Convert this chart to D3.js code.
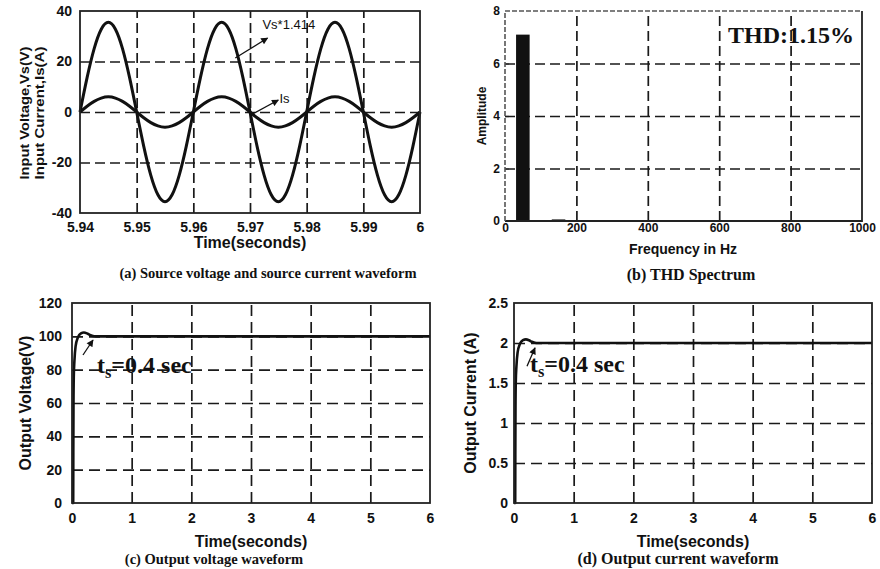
<!DOCTYPE html>
<html>
<head>
<meta charset="utf-8">
<script src="https://cdn.jsdelivr.net/npm/d3@7"></script>
<style>
  body { margin: 0; background: #fff; }
  svg { display: block; }
</style>
</head>
<body>
<svg id="fig" width="880" height="569"></svg>
<script>
// ---- data ----

// (a) source voltage (scaled) and source current, one sample every 1.25 ms
var srcStart = 5.94, srcStep = 0.00125;
var vsScaled = [0, 13.6, 25.1, 32.8, 35.5, 32.8, 25.1, 13.6, 0, -13.6, -25.1, -32.8, -35.5, -32.8, -25.1, -13.6,
                0, 13.6, 25.1, 32.8, 35.5, 32.8, 25.1, 13.6, 0, -13.6, -25.1, -32.8, -35.5, -32.8, -25.1, -13.6,
                0, 13.6, 25.1, 32.8, 35.5, 32.8, 25.1, 13.6, 0, -13.6, -25.1, -32.8, -35.5, -32.8, -25.1, -13.6, 0];
var isCurrent = [0, 2.3, 4.2, 5.5, 6.0, 5.5, 4.2, 2.3, 0, -2.3, -4.2, -5.5, -6.0, -5.5, -4.2, -2.3,
                 0, 2.3, 4.2, 5.5, 6.0, 5.5, 4.2, 2.3, 0, -2.3, -4.2, -5.5, -6.0, -5.5, -4.2, -2.3,
                 0, 2.3, 4.2, 5.5, 6.0, 5.5, 4.2, 2.3, 0, -2.3, -4.2, -5.5, -6.0, -5.5, -4.2, -2.3, 0];

// (b) harmonic spectrum
var harmFreq = [50, 150, 250];
var harmAmp = [7.1, 0.06, 0.03];
var thdLabel = "THD:1.15%";

// (c) output voltage step response
var voTime = [0, 0.02, 0.022, 0.025, 0.03, 0.04, 0.06, 0.1, 0.15, 0.2, 0.25, 0.3, 0.35, 0.4, 0.6, 1, 2, 3, 4, 5, 6];
var voVal  = [0, 0, 30, 60, 76, 85, 94, 99.5, 101.8, 102.3, 101.8, 100.8, 100.2, 100, 100, 100, 100, 100, 100, 100, 100];

// (d) output current step response
var ioTime = [0, 0.02, 0.022, 0.025, 0.03, 0.04, 0.06, 0.1, 0.15, 0.2, 0.25, 0.3, 0.35, 0.4, 0.6, 1, 2, 3, 4, 5, 6];
var ioVal  = [0, 0, 0.6, 1.2, 1.52, 1.7, 1.88, 1.99, 2.035, 2.045, 2.035, 2.015, 2.004, 2, 2, 2, 2, 2, 2, 2, 2];

// tick values
var aXTicks = [5.94, 5.95, 5.96, 5.97, 5.98, 5.99, 6];
var aYTicks = [-40, -20, 0, 20, 40];
var bXTicks = [0, 200, 400, 600, 800, 1000];
var bYTicks = [0, 2, 4, 6, 8];
var cdXTicks = [0, 1, 2, 3, 4, 5, 6];
var cYTicks = [0, 20, 40, 60, 80, 100, 120];
var dYTicks = [0, 0.5, 1, 1.5, 2, 2.5];

var SANS = '"Liberation Sans", Arial, sans-serif';
var SERIF = '"Liberation Serif", "Times New Roman", serif';
var INK = "#111";

var svg = d3.select("#fig");

svg.append("defs").append("marker")
   .attr("id", "ah")
   .attr("viewBox", "0 0 10 10")
   .attr("refX", 9).attr("refY", 5)
   .attr("markerWidth", 9).attr("markerHeight", 7)
   .attr("markerUnits", "userSpaceOnUse")
   .attr("orient", "auto")
   .append("path").attr("d", "M0,0L10,5L0,10z").attr("fill", INK);

var fmt = function(d) { return String(+d.toFixed(3)); };

// builds scales, dashed grid, tick labels; frame is drawn later so it sits on top
var makePanel = function(p) {
    var x = d3.scaleLinear().domain(p.xDom).range([p.left, p.right]);
    var y = d3.scaleLinear().domain(p.yDom).range([p.bottom, p.top]);
    var g = svg.append("g");

    var gx = g.append("g")
              .attr("transform", "translate(0," + p.bottom + ")")
              .call(d3.axisBottom(x).tickValues(p.xTicks.slice(1, -1))
                      .tickSize(-(p.bottom - p.top)).tickFormat(""));
    var gy = g.append("g")
              .attr("transform", "translate(" + p.left + ",0)")
              .call(d3.axisLeft(y).tickValues(p.yTicks.slice(1, -1))
                      .tickSize(-(p.right - p.left)).tickFormat(""));
    [gx, gy].forEach(function(a) {
        a.select(".domain").remove();
        a.selectAll("line")
         .attr("stroke", "#1a1a1a")
         .attr("stroke-width", 1.7)
         .attr("stroke-dasharray", p.dash || "10,5");
    });

    var lx = g.append("g")
              .attr("transform", "translate(0," + p.bottom + ")")
              .call(d3.axisBottom(x).tickValues(p.xTicks).tickSize(0)
                      .tickPadding(p.xPad).tickFormat(fmt));
    var ly = g.append("g")
              .attr("transform", "translate(" + p.left + ",0)")
              .call(d3.axisLeft(y).tickValues(p.yTicks).tickSize(0)
                      .tickPadding(p.yPad).tickFormat(fmt));
    [lx, ly].forEach(function(a) {
        a.select(".domain").remove();
        a.attr("font-family", SANS).attr("font-size", p.tickSize)
         .attr("font-weight", "bold");
        a.selectAll("text").attr("fill", INK);
    });

    return { g: g, x: x, y: y, p: p };
};

var frame = function(P, dashedTopLeft) {
    var p = P.p;
    if (!dashedTopLeft) {
        P.g.append("rect")
           .attr("x", p.left).attr("y", p.top)
           .attr("width", p.right - p.left).attr("height", p.bottom - p.top)
           .attr("fill", "none").attr("stroke", "#222").attr("stroke-width", 1.8);
        return;
    }
    P.g.append("path")
       .attr("d", "M" + p.left + "," + p.bottom + "H" + p.right + "V" + p.top)
       .attr("fill", "none").attr("stroke", "#222").attr("stroke-width", 1.8);
    P.g.append("path")
       .attr("d", "M" + p.left + "," + p.bottom + "V" + p.top + "H" + p.right)
       .attr("fill", "none").attr("stroke", "#555").attr("stroke-width", 1.6)
       .attr("stroke-dasharray", "5,2");
};

var curve = function(P, xs, ys, width, shape) {
    var line = d3.line()
                 .x(function(d, i) { return P.x(xs[i]); })
                 .y(function(d) { return P.y(d); })
                 .curve(shape);
    P.g.append("path")
       .datum(ys)
       .attr("d", line)
       .attr("fill", "none")
       .attr("stroke", INK)
       .attr("stroke-width", width)
       .attr("stroke-linejoin", "round");
};

var arrow = function(P, from, to) {
    P.g.append("line")
       .attr("x1", P.x(from[0])).attr("y1", P.y(from[1]))
       .attr("x2", P.x(to[0])).attr("y2", P.y(to[1]))
       .attr("stroke", INK).attr("stroke-width", 1.3)
       .attr("marker-end", "url(#ah)");
};

var rotLabel = function(x, y, size, txt, len) {
    var t = svg.append("text")
       .attr("transform", "translate(" + x + "," + y + ") rotate(-90)")
       .attr("text-anchor", "middle")
       .attr("font-family", SANS).attr("font-size", size).attr("font-weight", "bold")
       .attr("fill", INK)
       .text(txt);
    if (len) t.attr("textLength", len).attr("lengthAdjust", "spacingAndGlyphs");
};

var hLabel = function(x, y, size, txt, family) {
    svg.append("text")
       .attr("x", x).attr("y", y)
       .attr("text-anchor", "middle")
       .attr("font-family", family || SANS).attr("font-size", size).attr("font-weight", "bold")
       .attr("fill", INK)
       .text(txt);
};

var settleText = function(P, at, size) {
    var t = P.g.append("text")
               .attr("x", P.x(at[0])).attr("y", P.y(at[1]))
               .attr("font-family", SERIF).attr("font-size", size).attr("font-weight", "bold")
               .attr("fill", INK);
    t.append("tspan").text("t");
    t.append("tspan").attr("font-size", size * 0.68).attr("dy", 5).text("s");
    t.append("tspan").attr("dy", -5).text("=0.4 sec");
};

// ---- (a) ----
var A = makePanel({ left: 80, right: 420, top: 11, bottom: 213,
                    xDom: [5.94, 6], yDom: [-40, 40], xTicks: aXTicks, yTicks: aYTicks,
                    xPad: 9, yPad: 8, tickSize: 14 });
var srcTime = vsScaled.map(function(d, i) { return srcStart + i * srcStep; });
curve(A, srcTime, vsScaled, 3, d3.curveNatural);
curve(A, srcTime, isCurrent, 3, d3.curveNatural);
frame(A, false);
A.g.append("text").attr("x", A.x(5.9722)).attr("y", A.y(32.9))
   .attr("font-family", SANS).attr("font-size", 13).attr("fill", INK).text("Vs*1.414");
arrow(A, [5.9674, 21.4], [5.9731, 29.3]);
A.g.append("text").attr("x", A.x(5.9752)).attr("y", A.y(3.6))
   .attr("font-family", SANS).attr("font-size", 13).attr("fill", INK).text("Is");
arrow(A, [5.9701, -1.2], [5.975, 4.75]);
rotLabel(29, 113, 12.5, "Input Voltage,Vs(V)", 133);
rotLabel(44, 113, 12.5, "Input Current,Is(A)", 133);
hLabel(250, 248, 16, "Time(seconds)");
hLabel(268, 278, 14.5, "(a) Source voltage and source current waveform", SERIF);

// ---- (b) ----
var B = makePanel({ left: 505, right: 862, top: 11, bottom: 221,
                    xDom: [0, 1000], yDom: [0, 8], xTicks: bXTicks, yTicks: bYTicks,
                    xPad: 2, yPad: 5, tickSize: 12 });
B.g.append("g").selectAll("rect")
   .data(harmAmp)
   .enter().append("rect")
   .attr("x", function(d, i) { return B.x(harmFreq[i] - 19); })
   .attr("width", function(d, i) { return B.x(harmFreq[i] + 19) - B.x(harmFreq[i] - 19); })
   .attr("y", function(d) { return B.y(d); })
   .attr("height", function(d) { return B.y(0) - B.y(d); })
   .attr("fill", INK);
frame(B, true);
B.g.append("text").attr("x", 728).attr("y", 43)
   .attr("font-family", SERIF).attr("font-size", 24).attr("font-weight", "bold")
   .attr("fill", INK).text(thdLabel);
rotLabel(486, 116, 12, "Amplitude");
hLabel(683, 254, 14, "Frequency in Hz");
hLabel(691, 280, 16, "(b) THD Spectrum", SERIF);

// ---- (c) ----
var C = makePanel({ left: 72, right: 430, top: 303, bottom: 503,
                    xDom: [0, 6], yDom: [0, 120], xTicks: cdXTicks, yTicks: cYTicks,
                    xPad: 10, yPad: 10, tickSize: 14, dash: "11,6" });
curve(C, voTime, voVal, 2.6, d3.curveMonotoneX);
frame(C, false);
arrow(C, [0.184, 88.8], [0.352, 97.8]);
settleText(C, [0.419, 78], 24);
rotLabel(31, 403, 16, "Output Voltage(V)");
hLabel(251, 547, 16, "Time(seconds)");
hLabel(214, 564, 14.5, "(c) Output voltage waveform", SERIF);

// ---- (d) ----
var D = makePanel({ left: 514, right: 872, top: 303, bottom: 503,
                    xDom: [0, 6], yDom: [0, 2.5], xTicks: cdXTicks, yTicks: dYTicks,
                    xPad: 10, yPad: 6, tickSize: 14, dash: "11,6" });
curve(D, ioTime, ioVal, 2.6, d3.curveMonotoneX);
frame(D, false);
arrow(D, [0.218, 1.71], [0.352, 1.94]);
settleText(D, [0.268, 1.64], 24);
rotLabel(476, 403, 16, "Output Current (A)");
hLabel(693, 547, 16, "Time(seconds)");
hLabel(678, 564, 16, "(d) Output current waveform", SERIF);
</script>
</body>
</html>
